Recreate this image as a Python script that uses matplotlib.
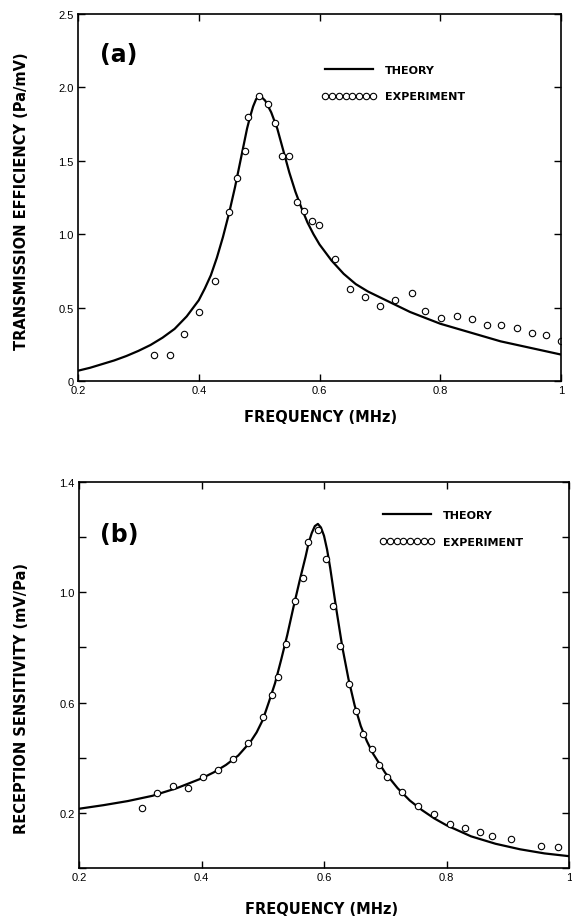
import numpy as np
import matplotlib
matplotlib.use("Agg")
from matplotlib import pyplot as plt

plt.rcParams['font.family'] = ['Liberation Sans', 'DejaVu Sans']

# (a) transmission efficiency
freq_a_theory = [0.20, 0.22, 0.24, 0.26, 0.28, 0.30, 0.32, 0.34, 0.36, 0.38, 0.40,
                 0.41, 0.42, 0.43, 0.44, 0.45, 0.46, 0.47, 0.48, 0.485, 0.49, 0.495,
                 0.50, 0.505, 0.51, 0.52, 0.53, 0.54, 0.55, 0.56, 0.57, 0.58, 0.59,
                 0.60, 0.62, 0.64, 0.66, 0.68, 0.70, 0.75, 0.80, 0.85, 0.90, 0.95,
                 1.00]
eff_a_theory = [0.07, 0.09, 0.115, 0.14, 0.17, 0.205, 0.245, 0.295, 0.355, 0.44, 0.55,
                0.63, 0.72, 0.84, 0.98, 1.14, 1.32, 1.52, 1.72, 1.80, 1.87, 1.92,
                1.94, 1.93, 1.91, 1.83, 1.72, 1.57, 1.42, 1.29, 1.18, 1.08, 1.00,
                0.93, 0.82, 0.73, 0.66, 0.61, 0.57, 0.47, 0.39, 0.33, 0.27, 0.225,
                0.18]
freq_a_exp = [0.326, 0.352, 0.376, 0.400, 0.427, 0.450, 0.463, 0.477, 0.482, 0.500,
              0.515, 0.526, 0.538, 0.549, 0.562, 0.574, 0.587, 0.599, 0.626, 0.651,
              0.675, 0.700, 0.725, 0.753, 0.775, 0.801, 0.828, 0.853, 0.877, 0.900,
              0.927, 0.952, 0.975, 1.000]
eff_a_exp = [0.18, 0.18, 0.32, 0.47, 0.68, 1.15, 1.38, 1.57, 1.80, 1.94,
             1.89, 1.76, 1.53, 1.53, 1.22, 1.16, 1.09, 1.06, 0.83, 0.63,
             0.57, 0.51, 0.55, 0.60, 0.48, 0.43, 0.44, 0.42, 0.38, 0.38,
             0.36, 0.33, 0.31, 0.27]

# (b) reception sensitivity
freq_b_theory = [0.20, 0.24, 0.28, 0.32, 0.36, 0.40, 0.42, 0.44, 0.46, 0.48, 0.49,
                 0.50, 0.51, 0.52, 0.53, 0.54, 0.55, 0.56, 0.57, 0.575, 0.58, 0.585,
                 0.59, 0.595, 0.60, 0.605, 0.61, 0.62, 0.63, 0.64, 0.65, 0.66, 0.67,
                 0.68, 0.70, 0.72, 0.74, 0.76, 0.78, 0.80, 0.84, 0.88, 0.92, 0.96,
                 1.00]
sens_b_theory = [0.215, 0.228, 0.243, 0.262, 0.29, 0.325, 0.347, 0.374, 0.408, 0.458, 0.492,
                 0.537, 0.602, 0.67, 0.755, 0.845, 0.945, 1.04, 1.13, 1.18, 1.215, 1.24,
                 1.248, 1.235, 1.205, 1.155, 1.09, 0.94, 0.80, 0.685, 0.59, 0.515, 0.46,
                 0.415, 0.345, 0.29, 0.245, 0.21, 0.18, 0.155, 0.115, 0.088, 0.068, 0.053,
                 0.043]
freq_b_exp = [0.303, 0.327, 0.353, 0.378, 0.402, 0.427, 0.451, 0.476, 0.501, 0.515,
              0.525, 0.538, 0.552, 0.565, 0.574, 0.590, 0.603, 0.615, 0.626, 0.640,
              0.652, 0.664, 0.678, 0.690, 0.703, 0.728, 0.754, 0.779, 0.805, 0.830,
              0.855, 0.875, 0.906, 0.955, 0.982]
sens_b_exp = [0.218, 0.273, 0.297, 0.290, 0.330, 0.357, 0.396, 0.453, 0.547, 0.628,
              0.692, 0.813, 0.969, 1.051, 1.184, 1.226, 1.121, 0.952, 0.805, 0.666,
              0.571, 0.487, 0.433, 0.375, 0.330, 0.275, 0.224, 0.197, 0.161, 0.145,
              0.131, 0.116, 0.104, 0.080, 0.077]

x_ticks = [0.2, 0.4, 0.6, 0.8, 1.0]
x_ticklabels = ["0.2", "0.4", "0.6", "0.8", "1"]
a_yticks = [0, 0.5, 1.0, 1.5, 2.0, 2.5]
a_yticklabels = ["0", "0.5", "1.0", "1.5", "2.0", "2.5"]
b_yticks = [0, 0.2, 0.4, 0.6, 0.8, 1.0, 1.2, 1.4]
b_yticklabels = ["", "0.2", "", "0.6", "", "1.0", "", "1.4"]

bold = dict(family='DejaVu Sans', fontweight='bold')

fig = plt.figure(figsize=(5.72, 9.2), dpi=100)
ax1 = fig.add_axes([0.1364, 0.5848, 0.8444, 0.3989])
ax2 = fig.add_axes([0.1381, 0.0554, 0.8567, 0.4196])

mk = dict(marker='o', mfc='white', mec='black', mew=0.8, ms=4.6, ls='none')


def style(ax, yticks, ylabels, ylim):
    ax.set_xlim(0.2, 1.0)
    ax.set_ylim(*ylim)
    ax.set_xticks(x_ticks)
    ax.set_xticklabels(x_ticklabels)
    ax.set_yticks(yticks)
    ax.set_yticklabels(ylabels)
    ax.tick_params(direction='in', top=True, right=True, length=5, width=1,
                   labelsize=8, pad=3)
    for s in ax.spines.values():
        s.set_linewidth(1.2)


def legend(ax, anchor):
    ax.legend(loc='upper left', bbox_to_anchor=anchor, frameon=False,
              numpoints=8, handlelength=4.9, handletextpad=0.8,
              labelspacing=1.5, prop={'family': 'DejaVu Sans', 'size': 8,
                                      'weight': 'bold'})


ax1.plot(freq_a_theory, eff_a_theory, color='black', lw=1.6, label='THEORY')
ax1.plot(freq_a_exp, eff_a_exp, label='EXPERIMENT', **mk)
style(ax1, a_yticks, a_yticklabels, (0, 2.5))
ax1.text(0.045, 0.89, "(a)", transform=ax1.transAxes, fontsize=17,
         va='center', **bold)
legend(ax1, (0.484, 0.889))

ax2.plot(freq_b_theory, sens_b_theory, color='black', lw=1.6, label='THEORY')
ax2.plot(freq_b_exp, sens_b_exp, label='EXPERIMENT', **mk)
style(ax2, b_yticks, b_yticklabels, (0, 1.4))
ax2.text(0.043, 0.865, "(b)", transform=ax2.transAxes, fontsize=17,
         va='center', **bold)
legend(ax2, (0.593, 0.953))

fig.text(0.038, 1 - 201 / 920, "TRANSMISSION EFFICIENCY (Pa/mV)", rotation=90,
         ha='center', va='center', fontsize=10.5, **bold)
fig.text(0.56, 1 - 418 / 920, "FREQUENCY (MHz)", ha='center', va='center',
         fontsize=10.5, **bold)
fig.text(0.038, 1 - 699 / 920, "RECEPTION SENSITIVITY (mV/Pa)", rotation=90,
         ha='center', va='center', fontsize=10.5, **bold)
fig.text(0.563, 1 - 910 / 920, "FREQUENCY (MHz)", ha='center', va='center',
         fontsize=10.5, **bold)

fig.savefig("out.png", dpi=100)
